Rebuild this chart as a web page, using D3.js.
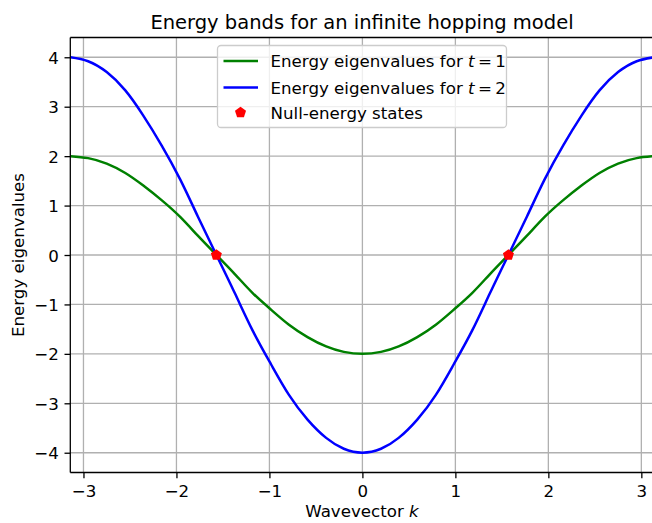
<!DOCTYPE html>
<html><head><meta charset="utf-8">
<script src="https://cdn.jsdelivr.net/npm/d3@7"></script>
<style>body{margin:0;background:#fff}svg{display:block;font-family:"DejaVu Sans",sans-serif}</style>
</head><body><svg id="c" width="652" height="523"></svg>
<script>
// data
const kValues = [-3.14,-2.95,-2.75,-2.55,-2.36,-2.16,-1.96,-1.77,-1.57,-1.37,-1.18,-0.98,-0.79,-0.59,-0.39,-0.20,0,
                 0.20,0.39,0.59,0.79,0.98,1.18,1.37,1.57,1.77,1.96,2.16,2.36,2.55,2.75,2.95,3.14];
const energyT1 = [2.00,1.96,1.85,1.66,1.41,1.11,0.77,0.39,0.00,-0.39,-0.77,-1.11,-1.41,-1.66,-1.85,-1.96,-2.00,
                  -1.96,-1.85,-1.66,-1.41,-1.11,-0.77,-0.39,0.00,0.39,0.77,1.11,1.41,1.66,1.85,1.96,2.00];
const energyT2 = [4.00,3.92,3.70,3.33,2.83,2.22,1.53,0.78,0.00,-0.78,-1.53,-2.22,-2.83,-3.33,-3.70,-3.92,-4.00,
                  -3.92,-3.70,-3.33,-2.83,-2.22,-1.53,-0.78,0.00,0.78,1.53,2.22,2.83,3.33,3.70,3.92,4.00];
const nullK = [-1.5708, 1.5708];
const nullE = [0, 0];
const xTicks = [-3,-2,-1,0,1,2,3];
const yTicks = [-4,-3,-2,-1,0,1,2,3,4];
const seriesNames = ["Energy eigenvalues for ", "Energy eigenvalues for ", "Null-energy states"];
const seriesT = ["1","2",null];
const colors = ["#008000","#0000ff","#ff0000"];

const svg = d3.select("#c");
const L = 70.3, R = 654.5, T = 37.5, B = 472.5;
const FS = "16.67px";
const x = d3.scaleLinear().domain([-Math.PI, Math.PI]).range([L, R]);
const y = d3.scaleLinear().domain([-4.4, 4.4]).range([B, T]);
const fmt = d => d < 0 ? "\u2212" + Math.abs(d) : String(d);

svg.append("defs").append("clipPath").attr("id", "clip")
  .append("rect").attr("x", L).attr("y", T).attr("width", R - L).attr("height", B - T);

// grid
const grid = svg.append("g").attr("stroke", "#b0b0b0").attr("stroke-width", 1.3);
xTicks.forEach(t => grid.append("line").attr("x1", x(t)).attr("x2", x(t)).attr("y1", T).attr("y2", B));
yTicks.forEach(t => grid.append("line").attr("x1", L).attr("x2", R).attr("y1", y(t)).attr("y2", y(t)));

// curves
const line = d3.line().x((d, i) => x(kValues[i])).y(d => y(d)).curve(d3.curveNatural);
const plot = svg.append("g").attr("clip-path", "url(#clip)");
plot.append("path").attr("d", line(energyT1)).attr("fill", "none").attr("stroke", colors[0]).attr("stroke-width", 2.5);
plot.append("path").attr("d", line(energyT2)).attr("fill", "none").attr("stroke", colors[1]).attr("stroke-width", 2.5);

function pentagon(cx, cy, r) {
  const pts = d3.range(5).map(i => {
    const a = -Math.PI / 2 + i * 2 * Math.PI / 5;
    return [cx + r * Math.cos(a), cy + r * Math.sin(a)];
  });
  return "M" + pts.map(p => p.join(",")).join("L") + "Z";
}
nullK.forEach((k, i) => {
  svg.append("path").attr("d", pentagon(x(k), y(nullE[i]), 5.8)).attr("fill", colors[2]);
});

// axes
const xAxis = svg.append("g").attr("transform", `translate(0,${B})`)
  .call(d3.axisBottom(x).tickValues(xTicks).tickFormat(fmt).tickSize(5.8).tickSizeOuter(0));
const yAxis = svg.append("g").attr("transform", `translate(${L},0)`)
  .call(d3.axisLeft(y).tickValues(yTicks).tickFormat(fmt).tickSize(5.8).tickSizeOuter(0));
[xAxis, yAxis].forEach(a => {
  a.select(".domain").remove();
  a.selectAll(".tick line").attr("stroke", "#000").attr("stroke-width", 1.3);
  a.selectAll(".tick text").attr("fill", "#000").style("font-size", FS).style("font-family", "DejaVu Sans");
});
xAxis.selectAll(".tick text").attr("dy", "0.76em").attr("y", 11.4);
yAxis.selectAll(".tick text").attr("x", -11.4).attr("dy", "0.36em");

// spines
const sp = svg.append("g").attr("stroke", "#000").attr("stroke-width", 1.3).attr("fill", "none");
sp.append("line").attr("x1", L).attr("x2", L).attr("y1", T).attr("y2", B);
sp.append("line").attr("x1", L).attr("x2", R).attr("y1", T).attr("y2", T);
sp.append("line").attr("x1", L).attr("x2", R).attr("y1", B).attr("y2", B);

// title & labels
svg.append("text").attr("x", 362).attr("y", 29).attr("text-anchor", "middle")
  .style("font-size", "19.5px").text("Energy bands for an infinite hopping model");
const xl = svg.append("text").attr("x", 362).attr("y", 517).attr("text-anchor", "middle").style("font-size", FS);
xl.append("tspan").text("Wavevector ");
xl.append("tspan").style("font-style", "italic").text("k");
svg.append("text").attr("transform", "translate(24,255) rotate(-90)").attr("text-anchor", "middle")
  .style("font-size", FS).text("Energy eigenvalues");

// legend
const lg = svg.append("g");
lg.append("rect").attr("x", 217.5).attr("y", 45.5).attr("width", 289).attr("height", 82).attr("rx", 3.5)
  .attr("fill", "#fff").attr("fill-opacity", 0.8).attr("stroke", "#cccccc").attr("stroke-width", 1.3);
const rowsY = [61, 87.5, 112.5];
rowsY.forEach((ry, i) => {
  if (i < 2) {
    lg.append("line").attr("x1", 223.5).attr("x2", 258).attr("y1", ry).attr("y2", ry)
      .attr("stroke", colors[i]).attr("stroke-width", 2.5);
  } else {
    lg.append("path").attr("d", pentagon(240.5, ry, 5.8)).attr("fill", colors[2]);
  }
  const t = lg.append("text").attr("x", 270.5).attr("y", ry).attr("dy", "0.36em").style("font-size", FS);
  t.append("tspan").text(seriesNames[i]);
  if (seriesT[i]) {
    t.append("tspan").style("font-style", "italic").text("t");
    t.append("tspan").text("\u2009=\u2009" + seriesT[i]);
  }
});
</script></body></html>
